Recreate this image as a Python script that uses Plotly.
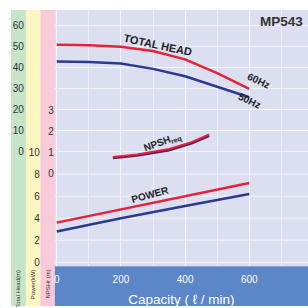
import plotly.graph_objects as go

# ---- data ----
flow = [0, 100, 200, 300, 400, 500, 600]
head_60 = [51, 50.7, 50, 48, 44, 37.5, 30]
head_50 = [43, 42.8, 42, 39.5, 36, 31, 26]

flow_power = [0, 200, 400, 600]
power_60 = [3.6, 4.8, 6.0, 7.2]
power_50 = [2.8, 4.0, 5.1, 6.2]

flow_npsh = [175, 250, 350, 420, 475]
npsh_60 = [0.8, 0.92, 1.18, 1.5, 1.87]
npsh_50 = [0.75, 0.87, 1.12, 1.44, 1.8]

x_ticks = [0, 200, 400, 600, 800]
head_ticks = [0, 10, 20, 30, 40, 50, 60]
power_ticks = [0, 2, 4, 6, 8, 10]
npsh_ticks = [0, 1, 2, 3]

W = H = 308
RED = "#e8213a"
BLUE = "#2b3990"
FONT = "Liberation Sans"

def px(v):
    return v / W

def py(v):
    return 1 - v / H

plot_left, plot_top, plot_bottom = 54, 10, 268
ydom = [py(plot_bottom), py(plot_top)]

fig = go.Figure()

fig.add_trace(go.Scatter(x=flow, y=head_60, mode="lines", line=dict(color=RED, width=2.5), yaxis="y"))
fig.add_trace(go.Scatter(x=flow, y=head_50, mode="lines", line=dict(color=BLUE, width=2.5), yaxis="y"))
fig.add_trace(go.Scatter(x=flow_power, y=power_60, mode="lines", line=dict(color=RED, width=2.5), yaxis="y2"))
fig.add_trace(go.Scatter(x=flow_power, y=power_50, mode="lines", line=dict(color=BLUE, width=2.5), yaxis="y2"))
fig.add_trace(go.Scatter(x=flow_npsh, y=npsh_50, mode="lines", line=dict(color="#5a1f5e", width=2.5), yaxis="y3"))
fig.add_trace(go.Scatter(x=flow_npsh, y=npsh_60, mode="lines", line=dict(color=RED, width=2), yaxis="y3"))

tickfont = dict(family=FONT, size=10, color="#333333")

fig.update_layout(
    width=W, height=H,
    margin=dict(l=0, r=0, t=0, b=0),
    paper_bgcolor="white",
    plot_bgcolor="#dcdff0",
    showlegend=False,
    xaxis=dict(
        domain=[px(plot_left), 1], range=[-6, 783],
        tickvals=x_ticks, ticktext=[str(v) for v in x_ticks],
        tickfont=dict(family=FONT, size=10, color="white"),
        ticklabelstandoff=6,
        showgrid=True, gridcolor="#f4f5fb", gridwidth=1,
        minor=dict(dtick=100, showgrid=True, gridcolor="#eceef8", gridwidth=1),
        zeroline=False, showline=False, ticks="",
        title=dict(text="Capacity ( ℓ / min)", font=dict(family=FONT, size=13.5, color="white"), standoff=10),
        anchor="y",
    ),
    yaxis=dict(
        domain=ydom, range=[-54.3, 67.5],
        anchor="free", position=px(23), side="left",
        tickvals=head_ticks, tickfont=tickfont,
        showgrid=True, gridcolor="#f4f5fb", gridwidth=1,
        zeroline=False, showline=False, ticks="",
    ),
    yaxis2=dict(
        domain=ydom, range=[-0.36, 22.9],
        anchor="free", position=px(39), side="left", overlaying="y",
        tickvals=power_ticks, tickfont=tickfont,
        showgrid=False, zeroline=False, showline=False, ticks="",
    ),
    yaxis3=dict(
        domain=ydom, range=[-4.37, 7.75],
        anchor="free", position=px(53), side="left", overlaying="y",
        tickvals=npsh_ticks, tickfont=tickfont,
        showgrid=False, zeroline=False, showline=False, ticks="",
    ),
)

# horizontal grid lines in the power region
for v in [0, 2, 4, 6, 8]:
    fig.add_shape(type="line", xref="paper", yref="y2", x0=px(plot_left), x1=1, y0=v, y1=v,
                  line=dict(color="#f4f5fb", width=1), layer="below")

# left strips and bottom bar
strips = [(10, 25, "#c6e4c8"), (25, 39.5, "#fbf6c2"), (39.5, 54, "#f7c9d9")]
for x0, x1, c in strips:
    fig.add_shape(type="rect", xref="paper", yref="paper", x0=px(x0), x1=px(x1), y0=0, y1=py(plot_top),
                  fillcolor=c, line_width=0, layer="below")
fig.add_shape(type="rect", xref="paper", yref="paper", x0=px(plot_left), x1=1, y0=0, y1=py(plot_bottom),
              fillcolor="#5b86c8", line_width=0, layer="below")

# strip labels
for xc, t in [(17.5, "Total Head(m)"), (32, "Power(kW)"), (47, "NPSHr (m)")]:
    fig.add_annotation(x=px(xc), y=py(269), xref="paper", yref="paper", text=t, showarrow=False,
                       textangle=-90, xanchor="center", yanchor="top",
                       font=dict(family=FONT, size=6, color="#333333"))

def label(xc, yc, text, size, angle=0, color="#222222"):
    fig.add_annotation(x=px(xc), y=py(yc), xref="paper", yref="paper", text=text, showarrow=False,
                       xanchor="center", yanchor="middle", textangle=angle,
                       font=dict(family=FONT, size=size, color=color))

label(281, 22, "<b>MP543</b>", 13.5, color="#333333")
label(158, 45, "<b>TOTAL HEAD</b>", 11, 12)
label(258, 81, "<b>60Hz</b>", 10, 25)
label(249, 101, "<b>50Hz</b>", 10, 25)
label(162, 143, "<b>NPSH</b><sub><b>req</b></sub>", 10, -20)
label(150, 196, "<b>POWER</b>", 10, -15)

fig.write_html("out.html", config={"displayModeBar": False},
               post_script="document.body.style.margin='0';document.body.style.overflow='hidden';")
